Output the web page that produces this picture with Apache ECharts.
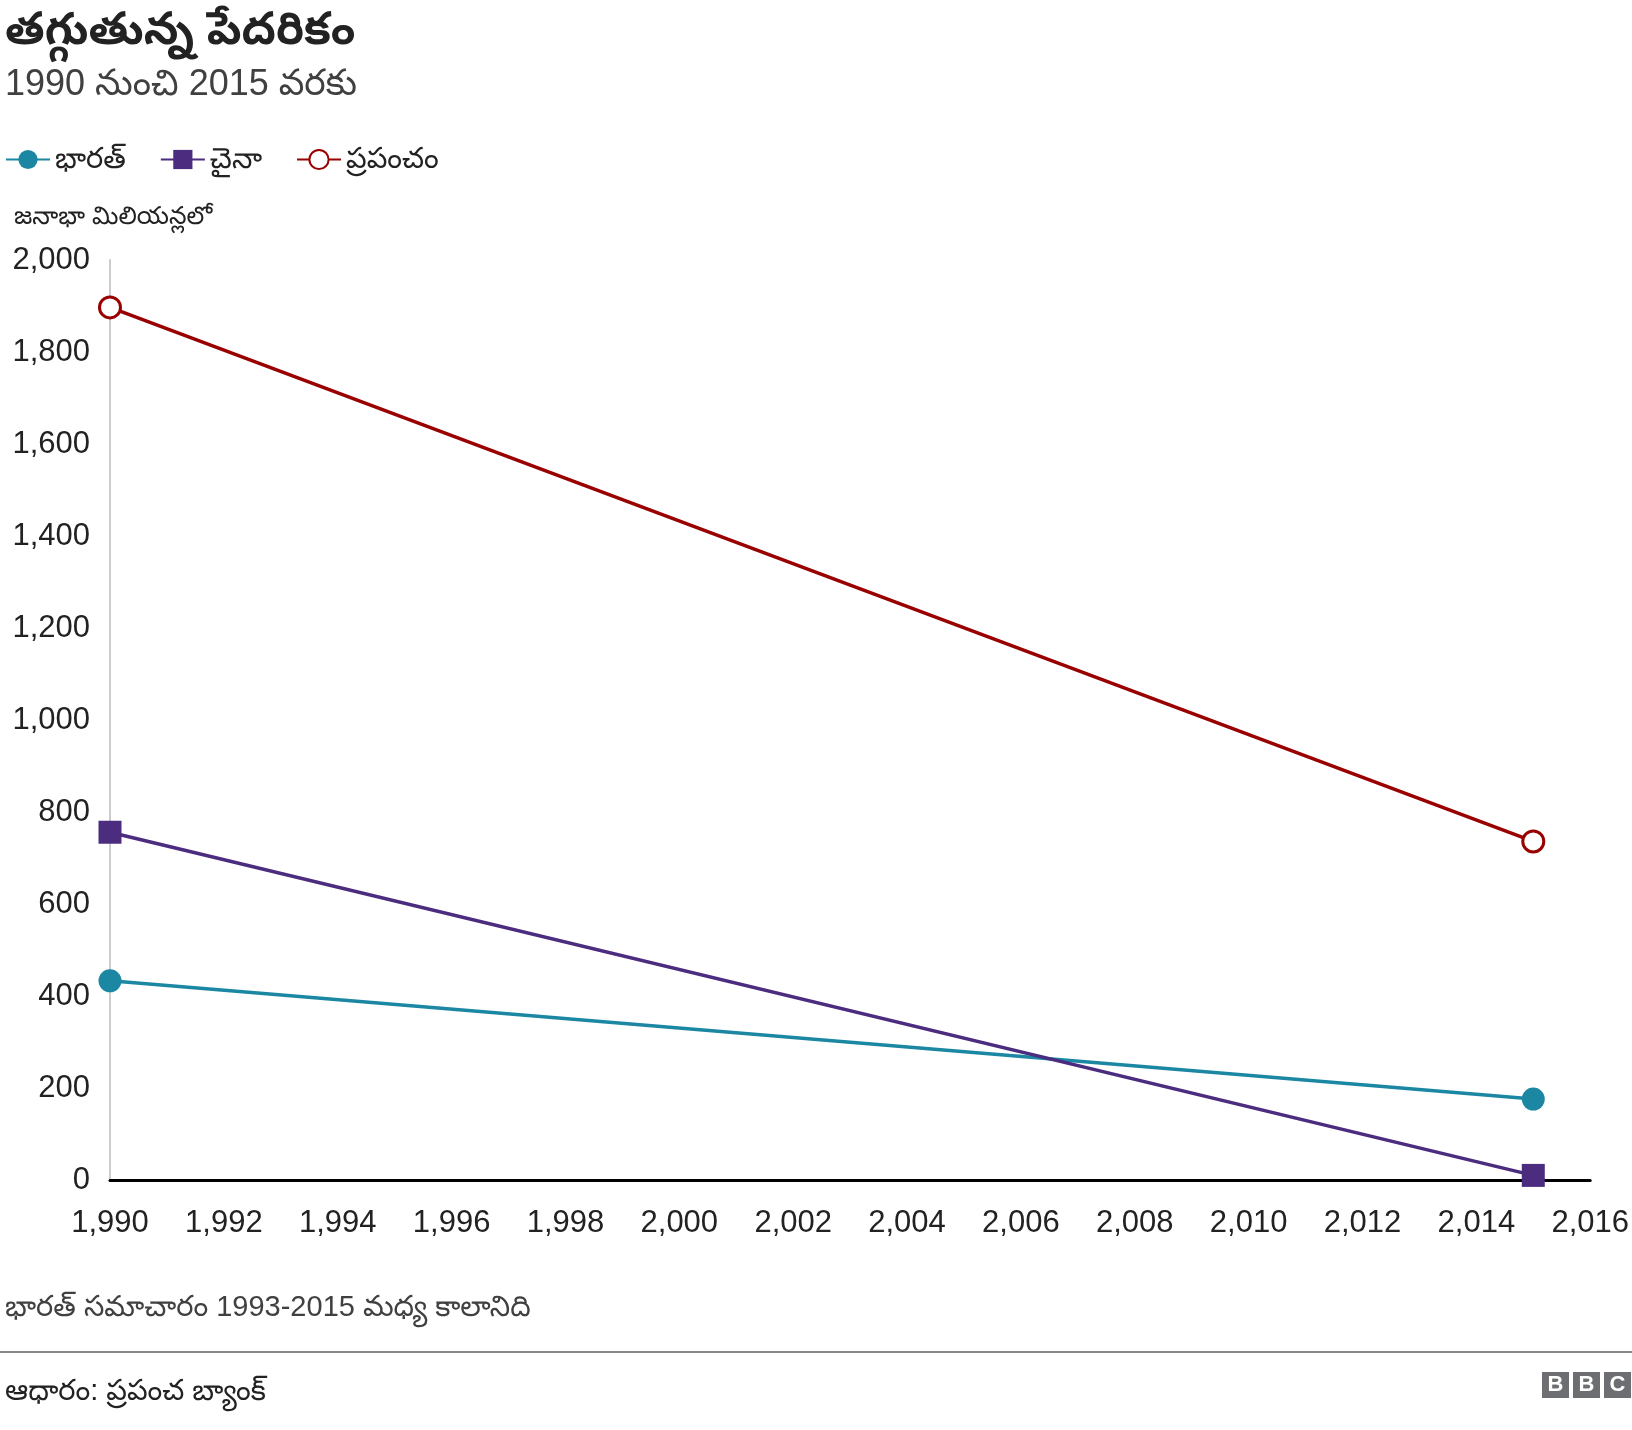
<!DOCTYPE html>
<html>
<head>
<meta charset="utf-8">
<script src="https://cdn.jsdelivr.net/npm/echarts@6/dist/echarts.min.js"></script>
<style>html,body{margin:0;padding:0;background:#fff}#main{width:1632px;height:1430px}</style>
</head>
<body>
<div id="main"></div>
<script>
var years = [1990, 2015];
var bharat = [433, 176];
var china = [756, 10];
var world = [1897, 736];
var F = '"Liberation Sans",Arial,"Noto Sans Telugu","Noto Sans",sans-serif';

var chart = echarts.init(document.getElementById('main'));
function pts(v) { return years.map(function (y, i) { return [y, v[i]]; }); }
var bbc = ['B', 'B', 'C'].map(function (c, i) {
    return {
        type: 'group', left: 1542 + i * 31, top: 1372,
        children: [
            { type: 'rect', shape: { x: 0, y: 0, width: 27, height: 26 }, style: { fill: '#6d6e71' } },
            { type: 'text', x: 13.5, y: 13, style: { text: c, fill: '#fff', font: 'bold 22px Arial', align: 'center', verticalAlign: 'middle' } }
        ]
    };
});
chart.setOption({
    animation: false,
    textStyle: { fontFamily: F },
    title: [
        { text: 'తగ్గుతున్న పేదరికం', left: 0, top: 4, textStyle: { fontSize: 45, fontWeight: 'bold', color: '#222', fontFamily: F } },
        { text: '1990 నుంచి 2015 వరకు', left: 0, top: 62, textStyle: { fontSize: 36, fontWeight: 'normal', color: '#404040', fontFamily: F } },
        { text: 'భారత్ సమాచారం 1993-2015 మధ్య కాలానిది', left: 0, top: 1288, textStyle: { fontSize: 29, fontWeight: 'normal', color: '#404040', fontFamily: F } },
        { text: 'ఆధారం: ప్రపంచ బ్యాంక్', left: 0, top: 1372, textStyle: { fontSize: 29, fontWeight: 'normal', color: '#222', fontFamily: F } }
    ],
    legend: {
        left: 0, top: 140, itemWidth: 44, itemHeight: 24, itemGap: 34,
        textStyle: { fontSize: 29, color: '#222', fontFamily: F },
        data: ['భారత్', 'చైనా', 'ప్రపంచం']
    },
    graphic: [
        { type: 'line', shape: { x1: 0, y1: 1352, x2: 1632, y2: 1352 }, style: { stroke: '#888', lineWidth: 2 } }
    ].concat(bbc),
    grid: { left: 110, right: 40, top: 260, bottom: 250, containLabel: false },
    xAxis: {
        type: 'value', min: 1990, max: 2016, interval: 2,
        axisLine: { lineStyle: { color: '#000', width: 3 } },
        axisTick: { show: false }, splitLine: { show: false },
        axisLabel: { fontSize: 31, color: '#222', margin: 28, fontFamily: F,
            formatter: function (v) { return v.toLocaleString('en-US'); } }
    },
    yAxis: {
        type: 'value', min: 0, max: 2000, interval: 200,
        name: 'జనాభా మిలియన్లలో', nameLocation: 'end', nameGap: 30,
        nameTextStyle: { fontSize: 25, color: '#222', align: 'left', padding: [0, 0, 0, -96], fontFamily: F },
        axisLine: { show: true, lineStyle: { color: '#ccc', width: 2 } },
        axisTick: { show: false }, splitLine: { show: false },
        axisLabel: { fontSize: 31, color: '#222', margin: 20, fontFamily: F,
            formatter: function (v) { return v.toLocaleString('en-US'); } }
    },
    series: [
        { name: 'భారత్', type: 'line', data: pts(bharat), symbol: 'circle', symbolSize: 23,
          lineStyle: { color: '#1b87a3', width: 3.5 }, itemStyle: { color: '#1b87a3' } },
        { name: 'చైనా', type: 'line', data: pts(china), symbol: 'rect', symbolSize: 23,
          lineStyle: { color: '#4c2c7f', width: 3.5 }, itemStyle: { color: '#4c2c7f' } },
        { name: 'ప్రపంచం', type: 'line', data: pts(world), symbol: 'circle', symbolSize: 21,
          lineStyle: { color: '#990000', width: 3.5 }, itemStyle: { color: '#fff', borderColor: '#990000', borderWidth: 3 } }
    ]
});
</script>
</body>
</html>
